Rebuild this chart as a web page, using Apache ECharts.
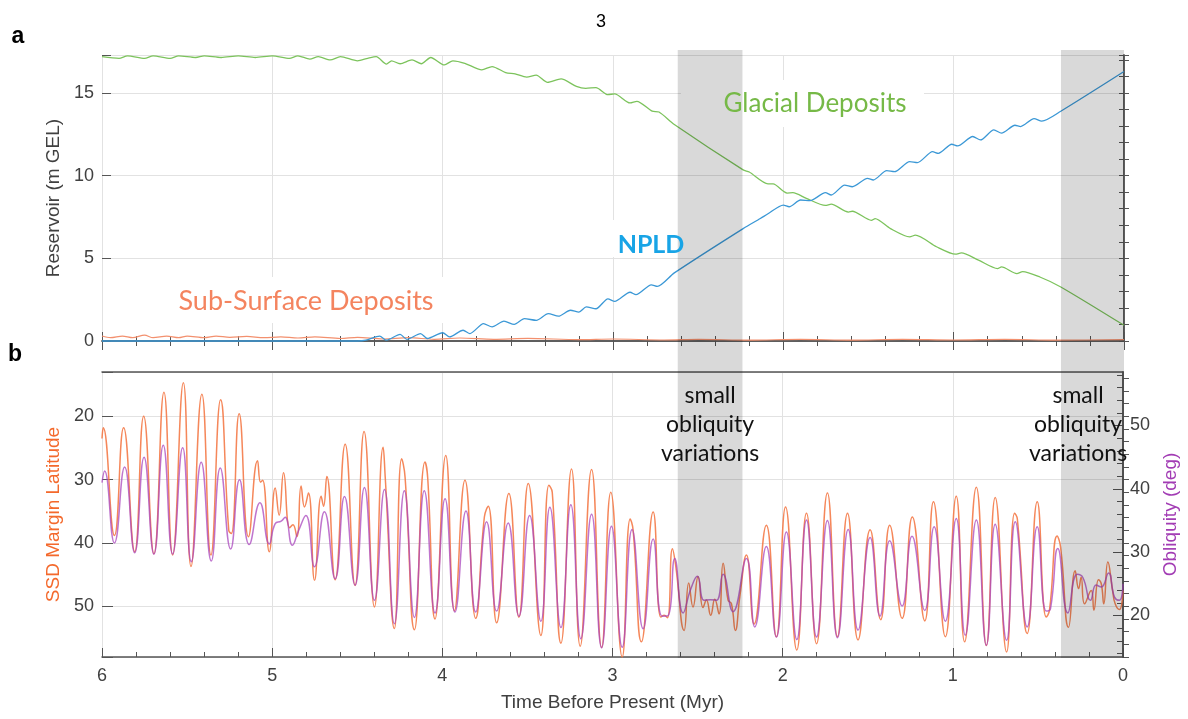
<!DOCTYPE html>
<html>
<head>
<meta charset="utf-8">
<script src="https://cdn.jsdelivr.net/npm/echarts@6/dist/echarts.min.js"></script>
<style>
  html, body { margin: 0; padding: 0; background: #fff; }
  #chart { width: 1188px; height: 719px; }
</style>
</head>
<body>
<div id="chart"></div>
<script>
// panel a: reservoirs (m GEL) against time before present (Myr)
const glacialTime = [6.0, 5.9, 5.85, 5.75, 5.7, 5.6, 5.55, 5.45, 5.4, 5.3, 5.2, 5.1, 5.0, 4.9, 4.85, 4.78, 4.73, 4.66, 4.6, 4.5,
  4.44, 4.39, 4.33, 4.3, 4.25, 4.18, 4.125, 4.07, 3.99, 3.94, 3.87, 3.77, 3.71, 3.63, 3.575, 3.507, 3.451, 3.384, 3.305, 3.215,
  3.16, 3.10, 3.03, 2.99, 2.90, 2.86, 2.77, 2.73, 2.64, 2.236, 2.20, 2.09, 2.06, 1.978, 1.944, 1.865, 1.753, 1.719, 1.618, 1.595,
  1.483, 1.461, 1.371, 1.258, 1.225, 1.101, 0.989, 0.955, 0.854, 0.742, 0.719, 0.629, 0.595, 0.494, 0.371, 0.0];
const glacialValue = [17.2, 17.1, 17.25, 17.1, 17.25, 17.1, 17.25, 17.15, 17.25, 17.15, 17.25, 17.15, 17.25, 17.1, 17.25, 17.05, 17.2, 17.0, 17.2, 16.95,
  17.1, 17.2, 16.75, 16.95, 16.77, 17.0, 16.77, 17.15, 16.7, 16.95, 16.8, 16.4, 16.6, 16.24, 16.16, 15.96, 16.08, 15.64, 15.85, 15.4,
  15.28, 15.33, 14.9, 14.95, 14.4, 14.5, 13.9, 13.85, 13.1, 10.35, 10.22, 9.5, 9.5, 8.95, 8.97, 8.63, 8.2, 8.28, 7.8, 7.85,
  7.3, 7.4, 6.8, 6.3, 6.4, 5.7, 5.25, 5.33, 4.89, 4.38, 4.48, 4.08, 4.2, 3.87, 3.27, 0.95];

const npldTime = [6.0, 4.5, 4.45, 4.37, 4.33, 4.25, 4.21, 4.13, 4.09, 4.0, 3.96, 3.88, 3.84, 3.76, 3.71, 3.64, 3.58, 3.52, 3.45, 3.38,
  3.32, 3.25, 3.2, 3.157, 3.10, 3.03, 2.99, 2.90, 2.865, 2.775, 2.74, 2.64, 2.236, 2.135, 2.09, 2.0, 1.966, 1.899, 1.843, 1.753,
  1.719, 1.64, 1.595, 1.506, 1.472, 1.393, 1.348, 1.258, 1.213, 1.124, 1.09, 1.011, 0.977, 0.888, 0.843, 0.764, 0.719, 0.64, 0.607, 0.528,
  0.483, 0.371, 0.0];
const npldValue = [0.0, 0.0, 0.05, 0.3, 0.05, 0.4, 0.1, 0.45, 0.15, 0.5, 0.25, 0.65, 0.45, 1.05, 0.85, 1.2, 1.0, 1.35, 1.25, 1.65,
  1.5, 1.86, 1.75, 2.06, 1.95, 2.55, 2.4, 2.95, 2.8, 3.4, 3.3, 4.12, 6.8, 7.41, 7.7, 8.22, 8.12, 8.53, 8.49, 8.97,
  8.83, 9.43, 9.33, 9.84, 9.74, 10.3, 10.24, 10.85, 10.79, 11.45, 11.35, 11.9, 11.8, 12.37, 12.16, 12.77, 12.57, 13.05, 12.97, 13.45,
  13.3, 13.9, 16.3];

const subSurfaceTime = [6.0, 5.95, 5.88, 5.82, 5.75, 5.7, 5.62, 5.55, 5.5, 5.4, 5.33, 5.25, 5.15, 5.05, 4.95, 4.85, 4.75, 4.6, 4.5, 4.35,
  4.2, 4.05, 3.9, 3.7, 3.5, 3.2, 3.0, 2.7, 2.5, 2.2, 1.9, 1.6, 1.3, 1.0, 0.7, 0.4, 0.0];
const subSurfaceValue = [0.3, 0.2, 0.3, 0.2, 0.35, 0.2, 0.3, 0.2, 0.3, 0.2, 0.3, 0.22, 0.28, 0.2, 0.25, 0.18, 0.25, 0.15, 0.22, 0.12,
  0.2, 0.1, 0.18, 0.1, 0.16, 0.08, 0.12, 0.06, 0.1, 0.05, 0.1, 0.05, 0.1, 0.06, 0.1, 0.05, 0.08];

// panel b: SSD margin latitude (left, inverted) and obliquity (right)
const latTime = [6.0, 5.993, 5.927, 5.873, 5.808, 5.755, 5.695, 5.636, 5.585, 5.522, 5.477, 5.413, 5.36, 5.303, 5.255, 5.24, 5.194, 5.139, 5.086, 5.068,
  5.056, 5.017, 4.982, 4.959, 4.933, 4.897, 4.878, 4.855, 4.83, 4.81, 4.787, 4.751, 4.712, 4.698, 4.679, 4.63, 4.571, 4.513, 4.46, 4.399,
  4.348, 4.335, 4.282, 4.239, 4.219, 4.164, 4.102, 4.086, 4.043, 3.98, 3.929, 3.867, 3.804, 3.753, 3.73, 3.681, 3.609, 3.55, 3.495, 3.421,
  3.374, 3.354, 3.303, 3.241, 3.19, 3.123, 3.064, 3.01, 2.943, 2.896, 2.879, 2.83, 2.761, 2.716, 2.697, 2.677, 2.648, 2.63, 2.579, 2.552,
  2.527, 2.497, 2.468, 2.448, 2.423, 2.399, 2.374, 2.35, 2.321, 2.301, 2.278, 2.252, 2.213, 2.168, 2.096, 2.037, 1.983, 1.917, 1.86, 1.801,
  1.737, 1.678, 1.619, 1.557, 1.486, 1.424, 1.371, 1.298, 1.238, 1.165, 1.114, 1.044, 0.98, 0.931, 0.862, 0.803, 0.751, 0.684, 0.637, 0.621,
  0.563, 0.504, 0.451, 0.432, 0.387, 0.367, 0.32, 0.281, 0.261, 0.246, 0.226, 0.187, 0.171, 0.144, 0.128, 0.113, 0.089, 0.06, 0.046, 0.021, 0.0];
const latValue = [23.5, 21.8, 38.8, 21.8, 41.4, 20.0, 41.7, 16.2, 41.9, 14.7, 43.7, 16.5, 41.9, 17.4, 38.0, 38.5, 19.6, 39.0, 27.0, 30.4,
  30.1, 41.4, 31.3, 35.6, 28.9, 37.6, 37.1, 39.0, 31.0, 34.3, 32.1, 45.9, 32.6, 34.2, 29.5, 45.8, 24.4, 46.7, 22.4, 50.1,
  24.9, 29.9, 53.5, 26.7, 29.6, 53.7, 27.2, 29.7, 52.0, 26.2, 50.7, 30.1, 51.9, 35.9, 34.2, 52.6, 32.2, 51.7, 30.6, 54.6,
  30.9, 32.0, 55.8, 28.3, 56.3, 28.4, 56.5, 32.0, 58.0, 36.2, 37.9, 55.6, 35.1, 51.7, 51.4, 51.8, 40.9, 43.3, 53.8, 46.3,
  50.1, 45.3, 50.2, 49.0, 51.4, 48.9, 51.2, 43.2, 49.0, 49.6, 53.8, 48.5, 41.9, 52.8, 37.2, 54.8, 34.3, 56.9, 35.3, 55.9,
  32.1, 54.8, 35.3, 55.3, 37.9, 52.1, 37.2, 51.9, 35.9, 52.3, 33.5, 54.8, 32.6, 55.6, 31.2, 56.2, 32.8, 57.2, 35.3, 36.2,
  54.3, 33.5, 51.7, 50.6, 38.9, 40.6, 53.3, 44.4, 47.2, 45.4, 49.6, 47.5, 50.6, 45.8, 46.4, 49.6, 43.0, 47.7, 49.6, 50.5, 47.5];

const oblTime = [6.0, 5.985, 5.927, 5.867, 5.808, 5.753, 5.695, 5.64, 5.585, 5.526, 5.475, 5.417, 5.358, 5.305, 5.244, 5.192, 5.135, 5.072, 5.017, 4.982,
  4.947, 4.924, 4.881, 4.845, 4.802, 4.751, 4.693, 4.63, 4.575, 4.513, 4.458, 4.399, 4.34, 4.282, 4.223, 4.164, 4.106, 4.043, 3.984, 3.926,
  3.861, 3.804, 3.74, 3.681, 3.613, 3.55, 3.487, 3.421, 3.368, 3.303, 3.245, 3.186, 3.123, 3.064, 3.006, 2.943, 2.885, 2.82, 2.761, 2.708,
  2.673, 2.634, 2.585, 2.54, 2.501, 2.462, 2.423, 2.389, 2.35, 2.292, 2.213, 2.164, 2.096, 2.037, 1.978, 1.917, 1.86, 1.801, 1.737, 1.678,
  1.615, 1.557, 1.486, 1.428, 1.371, 1.298, 1.24, 1.165, 1.11, 1.044, 0.98, 0.927, 0.862, 0.803, 0.751, 0.684, 0.633, 0.563, 0.504, 0.451,
  0.426, 0.383, 0.324, 0.269, 0.236, 0.191, 0.158, 0.128, 0.085, 0.05, 0.021, 0.0];
const oblValue = [41.0, 42.8, 31.45, 43.45, 29.9, 45.0, 29.7, 46.9, 29.7, 46.5, 28.5, 44.2, 28.6, 43.3, 30.5, 41.45, 31.2, 37.8, 31.3, 34.5,
  34.9, 35.5, 31.1, 33.4, 35.8, 27.7, 36.4, 25.8, 38.8, 24.8, 40.2, 22.4, 39.9, 18.7, 39.7, 19.7, 39.7, 20.4, 38.45, 20.55,
  36.5, 20.55, 34.8, 20.7, 34.6, 19.9, 35.8, 19.1, 37.1, 18.1, 37.5, 16.35, 36.0, 14.9, 34.1, 15.0, 33.6, 17.9, 32.1, 19.9,
  20.0, 29.0, 20.4, 24.2, 26.2, 22.4, 22.5, 22.4, 26.5, 20.6, 29.0, 18.2, 30.9, 16.6, 33.2, 16.2, 35.1, 16.6, 35.0, 16.5,
  33.6, 17.7, 32.3, 19.9, 31.8, 21.5, 32.5, 20.8, 34.0, 19.1, 35.3, 16.9, 35.1, 15.3, 34.4, 16.1, 34.8, 18.2, 34.0, 20.7,
  21.1, 30.6, 20.4, 26.5, 26.0, 22.4, 24.8, 24.5, 26.7, 22.9, 22.4, 25.0];

// shaded "small obliquity variations" intervals (Myr)
const shadeBands = [[2.62, 2.24], [0.37, 0.0]];
const noteTimes = [2.43, 0.27];

const evenTicks = [14, 16, 18, 20, 22, 24, 26, 28, 30, 32, 34, 36, 38, 40, 42, 44, 46, 48, 50, 52, 54, 56, 58];
const majorTicks = [20, 30, 40, 50];

const zip = (ts, vs) => ts.map((t, i) => [t, vs[i]]);

const axisCol = '#555';
const labelCol = '#404040';
const gridCol = '#e2e2e2';

const xBase = {
  type: 'value', min: 0, max: 6, interval: 1, inverse: true,
  axisLine: { lineStyle: { color: axisCol, width: 1.5 } },
  axisTick: { inside: true, length: 9, lineStyle: { color: axisCol } },
  minorTick: { show: true, splitNumber: 5, length: 5, lineStyle: { color: axisCol } },
  axisLabel: { show: false },
  splitLine: { show: false }
};

const option = {
  animation: false,
  textStyle: { fontFamily: 'Liberation Sans' },
  grid: [
    { left: 102, right: 64, top: 55, height: 286 },
    { left: 102, right: 64, top: 372, height: 285 }
  ],
  xAxis: [
    Object.assign({}, xBase, { gridIndex: 0, position: 'bottom', splitLine: { show: true, lineStyle: { color: gridCol } } }),
    Object.assign({}, xBase, { gridIndex: 0, position: 'top' }),
    Object.assign({}, xBase, {
      gridIndex: 1, position: 'bottom',
      splitLine: { show: true, lineStyle: { color: gridCol } },
      axisLabel: { show: true, fontSize: 18, color: labelCol, margin: 10 },
      name: 'Time Before Present (Myr)', nameLocation: 'middle', nameGap: 36,
      nameTextStyle: { fontSize: 19, color: labelCol }
    }),
    Object.assign({}, xBase, { gridIndex: 1, position: 'top', axisTick: { show: false }, minorTick: { show: false } })
  ],
  yAxis: [
    {
      gridIndex: 0, type: 'value', position: 'left', min: 0, max: 17.3, interval: 1,
      axisLine: { lineStyle: { color: axisCol, width: 1.5 } },
      axisTick: { inside: true, length: 5, lineStyle: { color: axisCol } },
      axisLabel: { fontSize: 18, color: labelCol, margin: 8, formatter: v => (v % 5 === 0 ? String(v) : '') },
      splitLine: { show: false },
      name: 'Reservoir (m GEL)', nameLocation: 'middle', nameGap: 30,
      nameTextStyle: { fontSize: 19, color: labelCol }
    },
    {
      gridIndex: 0, type: 'value', position: 'right', min: 0, max: 17.3, interval: 1,
      axisLine: { lineStyle: { color: axisCol, width: 1.5 } },
      axisTick: { inside: true, length: 5, lineStyle: { color: axisCol } },
      axisLabel: { show: false }, splitLine: { show: false }
    },
    {
      gridIndex: 0, type: 'value', position: 'left', min: 0, max: 17.3, interval: 5,
      axisLine: { show: false },
      axisTick: { inside: true, length: 9, lineStyle: { color: axisCol } },
      axisLabel: { show: false },
      splitLine: { show: true, lineStyle: { color: gridCol } }
    },
    {
      gridIndex: 1, type: 'value', position: 'left', min: 13, max: 58, inverse: true,
      axisLine: { lineStyle: { color: axisCol, width: 1.5 } },
      axisTick: { inside: true, length: 6, customValues: evenTicks, lineStyle: { color: axisCol } },
      axisLabel: { fontSize: 18, color: labelCol, margin: 8, customValues: majorTicks },
      splitLine: { show: false },
      name: 'SSD Margin Latitude', nameLocation: 'middle', nameGap: 35,
      nameTextStyle: { fontSize: 19, color: '#f4692c' }
    },
    {
      gridIndex: 1, type: 'value', position: 'right', min: 13.45, max: 58.45,
      axisLine: { lineStyle: { color: axisCol, width: 1.5 } },
      axisTick: { inside: true, length: 6, customValues: evenTicks, lineStyle: { color: axisCol } },
      axisLabel: { fontSize: 18, color: labelCol, margin: 7, customValues: majorTicks },
      splitLine: { show: false },
      name: 'Obliquity (deg)', nameLocation: 'middle', nameGap: 38,
      nameTextStyle: { fontSize: 19, color: '#a23cb4' }
    },
    {
      gridIndex: 1, type: 'value', position: 'left', min: 13, max: 58, inverse: true,
      axisLine: { show: false },
      axisTick: { inside: true, length: 11, lineStyle: { color: axisCol } },
      axisLabel: { show: false },
      splitLine: { show: true, lineStyle: { color: gridCol } }
    },
    {
      gridIndex: 1, type: 'value', position: 'right', min: 13.45, max: 58.45,
      axisLine: { show: false },
      axisTick: { inside: true, length: 10, customValues: majorTicks, lineStyle: { color: axisCol } },
      axisLabel: { show: false }, splitLine: { show: false }
    }
  ],
  series: [
    {
      name: 'Sub-Surface Deposits', type: 'line', xAxisIndex: 0, yAxisIndex: 0,
      data: zip(subSurfaceTime, subSurfaceValue), showSymbol: false, clip: false,
      smooth: 0.3, lineStyle: { color: '#f3906e', width: 1.2 }
    },
    {
      name: 'Glacial Deposits', type: 'line', xAxisIndex: 0, yAxisIndex: 0,
      data: zip(glacialTime, glacialValue), showSymbol: false, clip: false,
      smooth: 0.25, lineStyle: { color: '#7cc35c', width: 1.3 }
    },
    {
      name: 'NPLD', type: 'line', xAxisIndex: 0, yAxisIndex: 0,
      data: zip(npldTime, npldValue), showSymbol: false, clip: false,
      smooth: 0.25, lineStyle: { color: '#3b98d6', width: 1.3 }
    },
    {
      name: 'SSD Margin Latitude', type: 'line', xAxisIndex: 2, yAxisIndex: 3,
      data: zip(latTime, latValue), showSymbol: false,
      smooth: 0.5, lineStyle: { color: '#f47a48', width: 1.5, opacity: 0.9 }
    },
    {
      name: 'Obliquity', type: 'line', xAxisIndex: 2, yAxisIndex: 4,
      data: zip(oblTime, oblValue), showSymbol: false,
      smooth: 0.5, lineStyle: { color: '#a947bd', width: 1.5, opacity: 0.75 }
    }
  ]
};

const chart = echarts.init(document.getElementById('chart'));
chart.setOption(option);

// shaded bands span both panels, placed through the x scale
const xPix = t => chart.convertToPixel({ xAxisIndex: 0 }, t);
const shadeTop = chart.convertToPixel({ yAxisIndex: 0 }, 17.3) - 5;
const shadeBottom = chart.convertToPixel({ yAxisIndex: 3 }, 58) + 1;

const elements = [];
shadeBands.forEach(b => {
  const x0 = xPix(b[0]), x1 = xPix(b[1]);
  elements.push({
    type: 'rect', silent: true, z: 50,
    shape: { x: x0, y: shadeTop, width: x1 - x0, height: shadeBottom - shadeTop },
    style: { fill: 'rgba(0,0,0,0.15)' }
  });
});
noteTimes.forEach(t => {
  elements.push({
    type: 'text', z: 60, x: xPix(t), y: 381,
    style: { text: 'small\nobliquity\nvariations', align: 'center', verticalAlign: 'top',
      lineHeight: 29, font: '23px Lato', fill: '#111' }
  });
});

// white boxes behind the in-plot labels (they hide the grid)
[[681, 80, 243, 47], [150, 277, 310, 46], [606, 220, 84, 37]].forEach(r => {
  elements.push({ type: 'rect', silent: true, z: 1, shape: { x: r[0], y: r[1], width: r[2], height: r[3] }, style: { fill: '#fff' } });
});

elements.push(
  { type: 'text', z: 60, x: 815, y: 104, style: { text: 'Glacial Deposits', align: 'center', verticalAlign: 'middle', font: '26px Lato', fill: '#76b947' } },
  { type: 'text', z: 60, x: 651, y: 245, style: { text: 'NPLD', align: 'center', verticalAlign: 'middle', font: 'bold 25px Lato', fill: '#18a4e6' } },
  { type: 'text', z: 60, x: 306, y: 301, style: { text: 'Sub-Surface Deposits', align: 'center', verticalAlign: 'middle', font: '27px Lato', fill: '#f4845f' } },
  { type: 'text', z: 60, x: 601, y: 22, style: { text: '3', align: 'center', verticalAlign: 'middle', font: '18px Liberation Sans', fill: '#000' } },
  { type: 'text', z: 60, x: 18, y: 37, style: { text: 'a', align: 'center', verticalAlign: 'middle', font: 'bold 23px Liberation Sans', fill: '#000' } },
  { type: 'text', z: 60, x: 15, y: 355, style: { text: 'b', align: 'center', verticalAlign: 'middle', font: 'bold 23px Liberation Sans', fill: '#000' } }
);

chart.setOption({ graphic: { elements: elements } });
</script>
</body>
</html>
